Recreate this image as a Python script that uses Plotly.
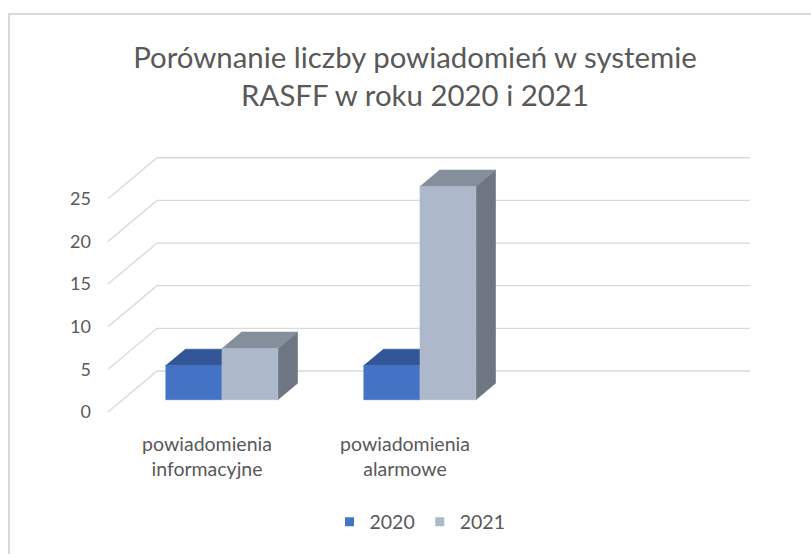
import plotly.graph_objects as go

# ---- data ----
categories = ["powiadomienia<br>informacyjne", "powiadomienia<br>alarmowe"]
series_names = ["2020", "2021"]
values_2020 = [4, 4]
values_2021 = [6, 25]
y_ticks = [0, 5, 10, 15, 20, 25]
title_text = "Porównanie liczby powiadomień w systemie<br>RASFF w roku 2020 i 2021"

# ---- geometry / styling ----
W, H = 811, 554
PLOT_L, PLOT_R, PLOT_T, PLOT_B = 108, 750, 150, 420
FRONT_Y0 = 412            # pixel of value 0 on the front plane
PX_X = 198.0              # pixels per category slot
PX_Y = 8.53               # pixels per value unit
N_SLOTS = 3
DEPTH_DX = 49 / PX_X      # floor depth in x units
DEPTH_DY = 41 / PX_Y      # floor depth in value units
BAR_D0, BAR_D1 = 0.3, 0.7 # bar depth span (fraction of floor depth)
GAP = 0.216               # slot fraction left of the first bar
BAR_W = 0.284             # slot fraction per bar

front_colors = ["#4472C4", "#ADB9CA"]
top_colors = ["#335696", "#848F9B"]
side_colors = ["#2E4E8A", "#6E7681"]
grid_color = "#D9D9D9"
text_color = "#595959"
FONT = "Lato"

x_range = [0, (PLOT_R - PLOT_L) / PX_X]
y_range = [-(PLOT_B - FRONT_Y0) / PX_Y, (FRONT_Y0 - PLOT_T) / PX_Y]


def proj(xu, v, d):
    return xu + d * DEPTH_DX, v + d * DEPTH_DY


def poly(pts):
    xs, ys = [], []
    for p in pts:
        px, py = proj(*p)
        xs.append(px)
        ys.append(py)
    return xs, ys


fig = go.Figure()

# gridlines (front slant + back wall)
gx, gy = [], []
for v in y_ticks:
    for p in [(0, v, 0), (0, v, 1), (N_SLOTS, v, 1)]:
        a, b = proj(*p)
        gx.append(a)
        gy.append(b)
    gx.append(None)
    gy.append(None)
fig.add_trace(go.Scatter(x=gx, y=gy, mode="lines", line=dict(color=grid_color, width=1.3),
                         hoverinfo="skip", showlegend=False))

series = [values_2020, values_2021]
for ci in range(len(categories)):
    for si, vals in enumerate(series):
        v = vals[ci]
        x0 = ci + GAP + si * BAR_W
        x1 = x0 + BAR_W
        faces = [
            ([(x1, 0, BAR_D0), (x1, 0, BAR_D1), (x1, v, BAR_D1), (x1, v, BAR_D0)], side_colors[si]),
            ([(x0, v, BAR_D0), (x1, v, BAR_D0), (x1, v, BAR_D1), (x0, v, BAR_D1)], top_colors[si]),
            ([(x0, 0, BAR_D0), (x1, 0, BAR_D0), (x1, v, BAR_D0), (x0, v, BAR_D0)], front_colors[si]),
        ]
        for pts, col in faces:
            xs, ys = poly(pts)
            fig.add_trace(go.Scatter(x=xs, y=ys, fill="toself", fillcolor=col, mode="lines",
                                     line=dict(width=0.6, color=col), hoverinfo="skip",
                                     showlegend=False))

# legend entries
for si, name in enumerate(series_names):
    fig.add_trace(go.Scatter(x=[None], y=[None], mode="markers", name=name,
                             marker=dict(symbol="square", size=9, color=front_colors[si])))

fig.update_layout(
    width=W, height=H,
    margin=dict(l=PLOT_L, r=W - PLOT_R, t=PLOT_T, b=H - PLOT_B, pad=0),
    paper_bgcolor="white", plot_bgcolor="white",
    font=dict(family=FONT, color=text_color, size=18),
    title=dict(text=title_text, x=415 / W, xanchor="center", xref="container",
               y=1 - 68 / H, yanchor="top", yref="container",
               font=dict(size=29.4, color=text_color, family=FONT)),
    xaxis=dict(range=x_range, showgrid=False, zeroline=False, showline=False,
               tickvals=[i + 0.5 for i in range(len(categories))], ticktext=categories,
               ticks="", tickfont=dict(size=19.5, color=text_color), ticklabelstandoff=10,
               automargin=False),
    yaxis=dict(range=y_range, showgrid=False, zeroline=False, showline=False,
               tickvals=y_ticks, ticks="", tickfont=dict(size=18, color=text_color),
               ticklabelstandoff=16, automargin=False),
    legend=dict(orientation="h", x=(420 - PLOT_L) / (PLOT_R - PLOT_L), xanchor="center",
                y=(PLOT_B - 522) / (PLOT_B - PLOT_T), yanchor="middle",
                font=dict(size=19.5, color=text_color), itemwidth=30),
    shapes=[dict(type="rect", xref="paper", yref="paper",
                 x0=(9 - PLOT_L) / (PLOT_R - PLOT_L), x1=(840 - PLOT_L) / (PLOT_R - PLOT_L),
                 y0=(PLOT_B - 580) / (PLOT_B - PLOT_T), y1=(PLOT_B - 14) / (PLOT_B - PLOT_T),
                 line=dict(color="#D9D9D9", width=2), layer="below")],
    showlegend=True,
)

fig.write_html("out.html", config={"displayModeBar": False},
               post_script="document.body.style.margin='0';")
